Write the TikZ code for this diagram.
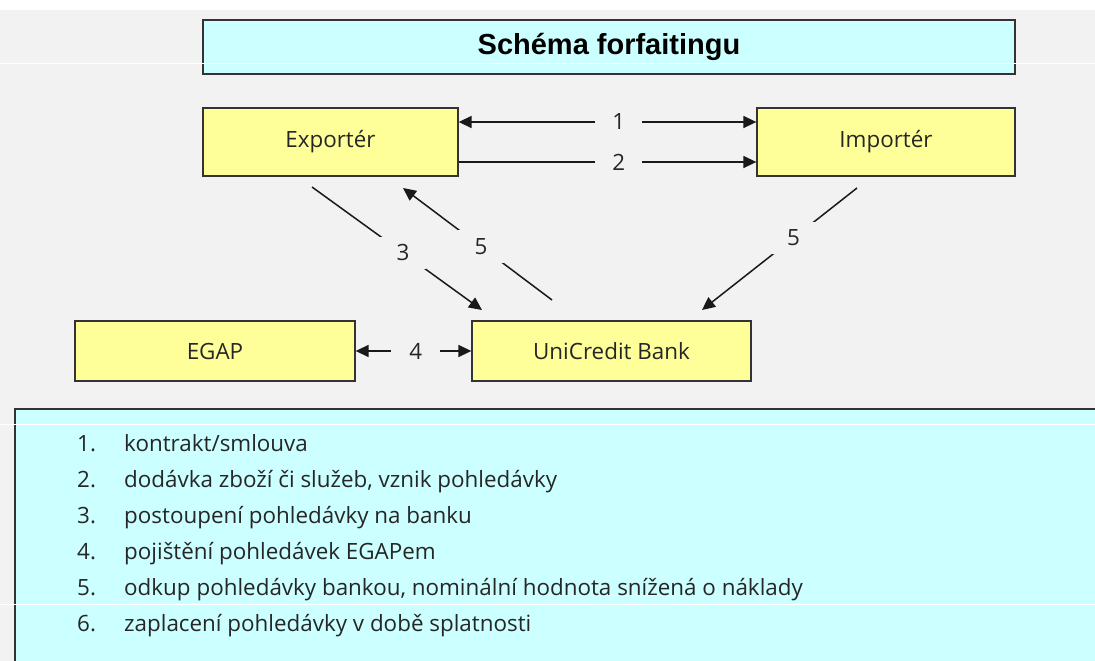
\documentclass[tikz,border=0pt]{standalone}
\usepackage{fontspec}
\setmainfont{Open Sans}
\newfontfamily\titlefont{Liberation Sans}
\usetikzlibrary{arrows.meta}
\definecolor{bg}{HTML}{F2F2F2}
\definecolor{boxyellow}{HTML}{FFFF99}
\definecolor{lightcyan}{HTML}{CCFFFF}
\definecolor{edge}{HTML}{333333}
\definecolor{txt}{HTML}{262626}
\begin{document}
\begin{tikzpicture}[x=1pt,y=-1pt,
  box/.style={draw=edge, line width=1.3pt, fill=boxyellow, inner sep=0pt,
    font=\fontsize{22.4}{26}\selectfont, text=txt},
  conn/.style={draw=black!90, line width=1.5pt},
  tip/.style={-{Triangle[length=13pt,width=12pt]}},
  dtip/.style={{Triangle[length=13pt,width=12pt]}-{Triangle[length=13pt,width=12pt]}},
  gaplbl/.style={fill=bg, inner xsep=17pt, inner ysep=8pt,
    font=\fontsize{22.4}{26}\selectfont, text=txt},
  seam/.style={draw=white, line width=0.8pt}
]
\useasboundingbox (0,0) rectangle (1095,661);
\clip (0,0) rectangle (1095,661);
% background
\fill[bg] (0,10) rectangle (1095,661);
% title
\node[draw=edge, line width=1.6pt, fill=lightcyan, minimum width=812pt, minimum height=54pt, inner sep=0pt,
  font=\titlefont\bfseries\fontsize{29}{32}\selectfont] (title) at (609,47) {Schéma forfaitingu};
% boxes
\node[box, minimum width=255pt, minimum height=68pt] (exp) at (330.5,142) {Exportér};
\node[box, minimum width=258pt, minimum height=68pt] (imp) at (886,142) {Importér};
\node[box, minimum width=280pt, minimum height=60pt] (egap) at (215,351) {EGAP};
\node[box, minimum width=279pt, minimum height=60pt] (bank) at (611.5,351) {UniCredit Bank};
% connectors
\draw[conn, dtip] ([yshift=20pt]exp.east) -- node[gaplbl, pos=0.538] (l1) {1} ([yshift=20pt]imp.west);
\draw[conn, tip] ([yshift=-20pt]exp.east) -- node[gaplbl, pos=0.538] (l2) {2} ([yshift=-20pt]imp.west);
\draw[conn, dtip] (egap.east) -- node[gaplbl, pos=0.52, inner xsep=18pt] (l4) {4} (bank.west);
\coordinate (a3s) at (312,187);
\coordinate (a3e) at (482,310);
\draw[conn, tip] (a3s) -- node[gaplbl, pos=0.535] (l3) {3} (a3e);
\coordinate (a5s) at (552,300);
\coordinate (a5e) at (403,188);
\draw[conn, tip] (a5s) -- node[gaplbl, pos=0.477] (l5a) {5} (a5e);
\coordinate (a6s) at (857,188);
\coordinate (a6e) at (702,310);
\draw[conn, tip] (a6s) -- node[gaplbl, pos=0.41] (l5b) {5} (a6e);
% legend
\draw[draw=edge, line width=1.3pt, fill=lightcyan] (15,409) rectangle (1110,680);
\node[anchor=base west, inner sep=0pt, text=txt, font=\fontsize{22.4}{36}\selectfont] (legend) at (77,451) {%
\begin{tabular}[t]{@{}p{47pt}@{}l@{}}
1. & kontrakt/smlouva\\
2. & dodávka zboží či služeb, vznik pohledávky\\
3. & postoupení pohledávky na banku\\
4. & pojištění pohledávek EGAPem\\
5. & odkup pohledávky bankou, nominální hodnota snížená o náklady\\
6. & zaplacení pohledávky v době splatnosti
\end{tabular}};
% rendering seams
\draw[seam] (0,63) -- (1095,63);
\draw[seam] (0,424) -- (1095,424);
\draw[seam] (0,604) -- (1095,604);
\end{tikzpicture}
\end{document}
